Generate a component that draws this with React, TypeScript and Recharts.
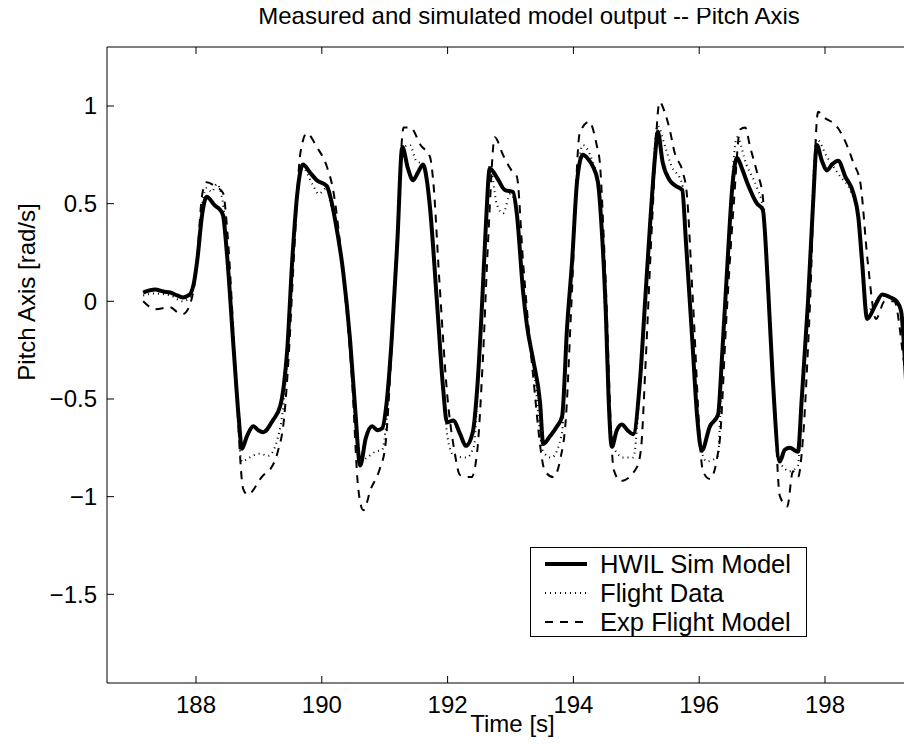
import React from "react";
import { LineChart, Line, XAxis, YAxis } from "recharts";

// time [s] and pitch rate [rad/s]
const hwilTime = [
  187.16, 187.35, 187.48, 187.59, 187.7, 187.79, 187.9, 187.97, 188.02, 188.1,
  188.17, 188.3, 188.38, 188.43, 188.49, 188.6, 188.68, 188.73, 188.81, 188.91,
  188.99, 189.07, 189.22, 189.34, 189.4, 189.45, 189.53, 189.61, 189.7, 189.81,
  189.92, 190.08, 190.14, 190.21, 190.34, 190.45, 190.53, 190.61, 190.7, 190.8,
  190.89, 190.96, 191.03, 191.11, 191.2, 191.28, 191.37, 191.45, 191.53, 191.61,
  191.67, 191.72, 191.83, 191.93, 191.99, 192.09, 192.2, 192.29, 192.4, 192.47,
  192.55, 192.61, 192.67, 192.79, 192.91, 193.04, 193.1, 193.2, 193.26, 193.36,
  193.47, 193.52, 193.63, 193.74, 193.82, 193.9, 193.98, 194.06, 194.15, 194.23,
  194.31, 194.39, 194.45, 194.52, 194.56, 194.61, 194.69, 194.77, 194.86, 194.95,
  195.06, 195.14, 195.22, 195.3, 195.34, 195.42, 195.53, 195.63, 195.73, 195.79,
  195.89, 195.97, 196.04, 196.17, 196.3, 196.36, 196.45, 196.53, 196.6, 196.68,
  196.76, 196.92, 197.01, 197.09, 197.17, 197.28, 197.36, 197.44, 197.57, 197.63,
  197.73, 197.81, 197.87, 197.95, 198.03, 198.11, 198.21, 198.32, 198.45, 198.53,
  198.59, 198.67, 198.8, 198.91, 199.04, 199.14, 199.21, 199.27, 199.32, 199.38,
];
const hwilValue = [
  0.045, 0.06, 0.05, 0.045, 0.03, 0.02, 0.035, 0.1, 0.21, 0.45,
  0.535, 0.49, 0.47, 0.44, 0.25, -0.25, -0.6, -0.755, -0.69, -0.64,
  -0.66, -0.67, -0.61, -0.535, -0.42, -0.25, 0.21, 0.55, 0.7, 0.66,
  0.62, 0.59, 0.53, 0.42, 0.15, -0.2, -0.55, -0.84, -0.7, -0.64,
  -0.66, -0.65, -0.52, -0.2, 0.3, 0.79, 0.68, 0.62, 0.66, 0.7,
  0.62, 0.48, 0.0, -0.45, -0.62, -0.61, -0.68, -0.74, -0.67, -0.45,
  0.0, 0.4, 0.68, 0.63, 0.57, 0.56, 0.45, 0.05, -0.12, -0.3,
  -0.52, -0.73, -0.69, -0.64, -0.59, -0.13, 0.21, 0.62, 0.75, 0.73,
  0.69, 0.61, 0.37, -0.1, -0.5, -0.745, -0.66, -0.63, -0.66, -0.68,
  -0.4, 0.0, 0.4, 0.75, 0.87, 0.71, 0.62, 0.59, 0.57, 0.3,
  -0.2, -0.6, -0.765, -0.64, -0.58, -0.3, 0.2, 0.6, 0.735, 0.68,
  0.61, 0.5, 0.47, 0.1, -0.4, -0.82, -0.76, -0.75, -0.77, -0.5,
  0.0, 0.5, 0.8, 0.72, 0.67, 0.7, 0.72, 0.64, 0.555, 0.43,
  0.2, -0.09, -0.02, 0.035, 0.02, 0.0, -0.05, -0.3, -0.57, -0.62,
];

const flightTime = [
  187.16, 187.35, 187.59, 187.79, 187.9, 187.97, 188.02, 188.1, 188.17, 188.25,
  188.33, 188.43, 188.49, 188.6, 188.73, 188.85, 189.0, 189.15, 189.3, 189.4,
  189.45, 189.53, 189.61, 189.7, 189.85, 189.95, 190.08, 190.14, 190.21, 190.34,
  190.45, 190.61, 190.72, 190.85, 190.96, 191.03, 191.11, 191.2, 191.28, 191.4,
  191.5, 191.61, 191.67, 191.72, 191.83, 191.93, 192.0, 192.1, 192.3, 192.42,
  192.47, 192.55, 192.61, 192.67, 192.78, 192.88, 193.0, 193.1, 193.2, 193.36,
  193.52, 193.65, 193.82, 193.9, 193.98, 194.06, 194.15, 194.3, 194.39, 194.45,
  194.56, 194.65, 194.8, 194.95, 195.06, 195.14, 195.22, 195.34, 195.45, 195.55,
  195.73, 195.79, 195.89, 196.04, 196.12, 196.3, 196.36, 196.45, 196.6, 196.75,
  196.92, 197.01, 197.09, 197.17, 197.28, 197.44, 197.57, 197.63, 197.73, 197.87,
  198.03, 198.24, 198.4, 198.53, 198.67, 198.91, 199.14, 199.21, 199.27, 199.38,
];
const flightValue = [
  0.03, 0.04, 0.03, 0.0, 0.02, 0.1, 0.22, 0.5, 0.58, 0.56,
  0.6, 0.5, 0.28, -0.25, -0.82, -0.8, -0.78, -0.79, -0.7, -0.5,
  -0.3, 0.2, 0.56, 0.68, 0.6, 0.55, 0.58, 0.5, 0.42, 0.15,
  -0.2, -0.82, -0.8, -0.77, -0.76, -0.6, -0.22, 0.3, 0.78, 0.8,
  0.72, 0.7, 0.63, 0.5, 0.0, -0.45, -0.7, -0.79, -0.8, -0.74,
  -0.5, 0.0, 0.42, 0.7, 0.5, 0.45, 0.55, 0.45, 0.05, -0.3,
  -0.77, -0.8, -0.67, -0.15, 0.2, 0.62, 0.8, 0.72, 0.62, 0.37,
  -0.5, -0.755, -0.8, -0.8, -0.42, 0.0, 0.42, 0.9, 0.8, 0.7,
  0.6, 0.3, -0.2, -0.77, -0.82, -0.79, -0.32, 0.2, 0.84, 0.7,
  0.58, 0.48, 0.1, -0.4, -0.82, -0.87, -0.84, -0.52, 0.0, 0.83,
  0.74, 0.64, 0.57, 0.43, -0.05, 0.03, 0.0, -0.05, -0.32, -0.6,
];

const expTime = [
  187.16, 187.27, 187.35, 187.59, 187.7, 187.79, 187.9, 188.0, 188.1, 188.17,
  188.3, 188.43, 188.5, 188.62, 188.75, 188.82, 189.07, 189.18, 189.3, 189.4,
  189.47, 189.56, 189.66, 189.76, 189.92, 190.08, 190.18, 190.35, 190.48, 190.58,
  190.66, 190.78, 190.92, 191.01, 191.1, 191.2, 191.3, 191.41, 191.57, 191.72,
  191.77, 191.87, 192.0, 192.1, 192.2, 192.38, 192.47, 192.56, 192.65, 192.75,
  192.88, 193.04, 193.1, 193.2, 193.35, 193.55, 193.68, 193.79, 193.88, 193.97,
  194.1, 194.25, 194.37, 194.42, 194.5, 194.64, 194.75, 194.99, 195.07, 195.15,
  195.25, 195.37, 195.45, 195.53, 195.61, 195.74, 195.8, 195.9, 196.06, 196.17,
  196.28, 196.33, 196.43, 196.55, 196.65, 196.73, 196.81, 196.92, 197.01, 197.1,
  197.2, 197.28, 197.4, 197.49, 197.57, 197.65, 197.75, 197.89, 197.97, 198.2,
  198.36, 198.45, 198.56, 198.68, 198.81, 198.95, 199.1, 199.25, 199.38,
];
const expValue = [
  0.0, -0.03, -0.04, -0.03, -0.055, -0.065, -0.02, 0.15, 0.55, 0.61,
  0.59, 0.555, 0.35, -0.3, -0.96, -0.99, -0.89, -0.86, -0.77, -0.6,
  -0.3, 0.25, 0.76, 0.86, 0.79, 0.69, 0.57, 0.1, -0.4, -0.96,
  -1.07, -0.96, -0.86, -0.74, -0.3, 0.35, 0.89, 0.89, 0.8, 0.74,
  0.62, 0.1, -0.5, -0.75, -0.89, -0.9, -0.77, -0.3, 0.35, 0.84,
  0.75, 0.66, 0.64, 0.2, -0.35, -0.87, -0.9, -0.81, -0.6, 0.0,
  0.86, 0.92, 0.8, 0.71, 0.2, -0.86, -0.92, -0.86, -0.77, -0.3,
  0.4, 1.02, 0.97, 0.88, 0.76, 0.66, 0.56, 0.0, -0.87, -0.91,
  -0.81, -0.7, -0.1, 0.5, 0.88, 0.89, 0.79, 0.66, 0.54, 0.0,
  -0.55, -0.995, -1.05, -0.87, -0.9, -0.7, -0.1, 0.97, 0.945, 0.89,
  0.79, 0.71, 0.61, 0.2, -0.09, 0.0, 0.0, -0.3, -0.65,
];

const xTicks = [188, 190, 192, 194, 196, 198];
const yTicks = [-1.5, -1, -0.5, 0, 0.5, 1];

const legendItems = [
  { name: "HWIL Sim Model", width: 4, dash: undefined },
  { name: "Flight Data", width: 2, dash: "1 4" },
  { name: "Exp Flight Model", width: 2, dash: "8 7" },
];

const toRows = (t: number[], v: number[]) => t.map((x, i) => ({ t: x, v: v[i] }));
const hwilData = toRows(hwilTime, hwilValue);
const flightData = toRows(flightTime, flightValue);
const expData = toRows(expTime, expValue);

const FONT = '"Liberation Sans", Arial, Helvetica, sans-serif';

const fmtY = (v: number) => (v < 0 ? "\u2212" + Math.abs(v) : String(v));

const BottomTick = (props: any) => {
  const { x, y, payload } = props;
  return (
    <g>
      <line x1={x} x2={x} y1={y} y2={y - 7} stroke="#000" strokeWidth={1} />
      <text x={x} y={y + 30} textAnchor="middle" fontSize={24} fontFamily={FONT} fill="#000">
        {payload.value}
      </text>
    </g>
  );
};

const TopTick = (props: any) => {
  const { x, y } = props;
  return <line x1={x} x2={x} y1={y} y2={y + 7} stroke="#000" strokeWidth={1} />;
};

const LeftTick = (props: any) => {
  const { x, y, payload } = props;
  return (
    <g>
      <line x1={x} x2={x + 7} y1={y} y2={y} stroke="#000" strokeWidth={1} />
      <text x={x - 10} y={y + 8.5} textAnchor="end" fontSize={24} fontFamily={FONT} fill="#000">
        {fmtY(payload.value)}
      </text>
    </g>
  );
};

export default function App() {
  // chart is pulled over the body margin so chart coords = page coords
  return (
    <div style={{ position: "relative", width: 912, height: 739, margin: "-8px 0 0 -8px", fontFamily: FONT }}>
      <LineChart
        width={912}
        height={739}
        margin={{ top: 46, right: 0, bottom: 0, left: 0 }}
      >
        <XAxis
          xAxisId="top"
          orientation="top"
          type="number"
          dataKey="t"
          domain={[186.585, 199.383]}
          allowDataOverflow
          ticks={xTicks}
          height={1}
          tickSize={0}
          tickMargin={0}
          tickLine={false}
          axisLine={{ stroke: "#000", strokeWidth: 1 }}
          tick={<TopTick />}
          label={() => (
            <text x={529} y={24} textAnchor="middle" fontSize={24} fontFamily={FONT} fill="#000">
              Measured and simulated model output -- Pitch Axis
            </text>
          )}
        />
        <XAxis
          type="number"
          dataKey="t"
          domain={[186.585, 199.383]}
          allowDataOverflow
          ticks={xTicks}
          height={56}
          tickSize={0}
          tickMargin={0}
          tickLine={false}
          axisLine={{ stroke: "#000", strokeWidth: 1 }}
          tick={<BottomTick />}
          label={(p: any) => {
            const vb = p.viewBox;
            return (
              <text x={vb.x + vb.width / 2 + 3} y={vb.y + 49} textAnchor="middle" fontSize={24} fontFamily={FONT} fill="#000">
                Time [s]
              </text>
            );
          }}
        />
        <YAxis
          type="number"
          domain={[-1.954, 1.302]}
          allowDataOverflow
          ticks={yTicks}
          width={107}
          tickSize={0}
          tickMargin={0}
          tickLine={false}
          axisLine={{ stroke: "#000", strokeWidth: 1 }}
          tick={<LeftTick />}
          label={() => (
            <text
              x={26}
              y={292}
              transform="rotate(-90, 26, 292)"
              textAnchor="middle"
              dominantBaseline="central"
              fontSize={24}
              fontFamily={FONT}
              fill="#000"
            >
              Pitch Axis [rad/s]
            </text>
          )}
        />
        <Line
          data={expData}
          dataKey="v"
          type="monotone"
          stroke="#000"
          strokeWidth={2}
          strokeDasharray="8 7"
          dot={false}
          activeDot={false}
          isAnimationActive={false}
        />
        <Line
          data={flightData}
          dataKey="v"
          type="monotone"
          stroke="#000"
          strokeWidth={2}
          strokeDasharray="1 4"
          dot={false}
          activeDot={false}
          isAnimationActive={false}
        />
        <Line
          data={hwilData}
          dataKey="v"
          type="monotone"
          stroke="#000"
          strokeWidth={4}
          dot={false}
          activeDot={false}
          isAnimationActive={false}
        />
      </LineChart>
      <div
        style={{
          position: "absolute",
          left: 530,
          top: 547,
          width: 275,
          height: 88,
          border: "1px solid #000",
          background: "#fff",
        }}
      >
        {legendItems.map((it, i) => (
          <div key={it.name} style={{ position: "absolute", left: 0, top: 2 + i * 29, height: 29, width: 275 }}>
            <svg width={60} height={29} style={{ position: "absolute", left: 12, top: 0 }}>
              <line x1={2} x2={44} y1={14} y2={14} stroke="#000" strokeWidth={it.width} strokeDasharray={it.dash} />
            </svg>
            <div style={{ position: "absolute", left: 69, top: 0, fontSize: 25.6, lineHeight: "29px", whiteSpace: "nowrap", color: "#000" }}>
              {it.name}
            </div>
          </div>
        ))}
      </div>
    </div>
  );
}
